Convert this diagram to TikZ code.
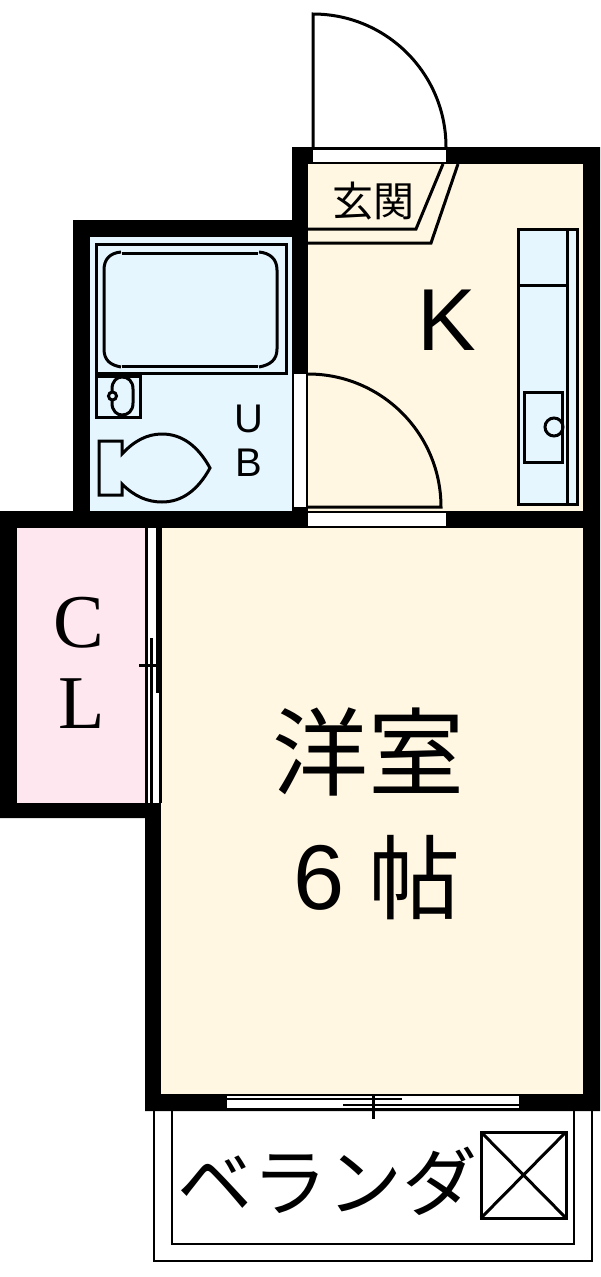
\documentclass[tikz,border=0pt]{standalone}
\usepackage{fontspec}
\setmainfont{Liberation Sans}
\newfontfamily\serifcl{Liberation Serif}
\newfontfamily\jpfont{Noto Sans CJK JP}
\definecolor{roomyellow}{HTML}{FFF7E1}
\definecolor{bathblue}{HTML}{E6F6FF}
\definecolor{closetpink}{HTML}{FFE7EF}
\tikzset{
  thinline/.style={draw=black,line width=3pt},
  fineline/.style={draw=black,line width=2.4pt},
  opening/.style={fill=white,draw=none},
  label/.style={inner sep=0pt,text=black},
}
\newcommand{\fs}[1]{\fontsize{#1}{#1}\selectfont}
\begin{document}
\begin{tikzpicture}[x=1pt,y=-1pt]
  \useasboundingbox (0,0) rectangle (600,1277);
  \clip (0,0) rectangle (600,1277);
  \fill (292,147) -- (604,147) -- (604,1111) -- (145,1111) -- (145,818) -- (-4,818)
    -- (-4,511) -- (73,511) -- (73,220) -- (292,220) -- cycle;
  \fill[roomyellow] (308,164) rectangle (583,511);
  \fill[roomyellow] (161,528) rectangle (583,1094);
  \fill[bathblue] (90,237) rectangle (292,511);
  \fill[closetpink] (17,528) rectangle (146,803);
  \fill[opening] (313,150) rectangle (446,162);
  \fill[opening] (294,374) rectangle (306,507);
  \fill[opening] (308,513) rectangle (446,526);
  \fill[opening] (148,528) rectangle (161,803);
  \fill[opening] (227,1096) rectangle (519,1108);
  \draw[thinline] (313,148) -- (313,14) arc[start angle=-90,end angle=0,radius=133];
  \draw[fineline] (313,148) -- (446,148);
  \draw[thinline] (308,229) -- (416,229) -- (443,164);
  \draw[thinline] (308,243) -- (431,243) -- (458,164);
  \draw[thinline] (308,374) arc[start angle=-90,end angle=0,radius=133] -- (308,507);
  \draw[thinline] (96,244) rectangle (286,373);
  \draw[thinline] (122,253) -- (258,253) (122,366) -- (258,366);
  \draw[thinline] (121,252) .. controls (110,253) and (104,259) .. (104,270) -- (104,349)
    .. controls (104,360) and (110,365) .. (121,367);
  \draw[thinline] (259,252) .. controls (270,253) and (277,259) .. (277,270) -- (277,349)
    .. controls (277,360) and (270,365) .. (259,367);
  \draw[thinline] (96,376) rectangle (140,417);
  \draw[thinline] (112,396) -- (112,389) .. controls (112,381) and (117,377) .. (122,377)
    .. controls (128,377) and (133,381) .. (133,389) -- (133,403)
    .. controls (133,411) and (128,415) .. (122,415)
    .. controls (117,415) and (112,411) .. (112,403) -- cycle;
  \draw[thinline,fill=bathblue] (112.5,396) circle[radius=4];
  \draw[thinline] (122,454) -- (122,441) -- (99,441) -- (99,495) -- (122,495) -- (122,484)
    .. controls (134,496) and (147,502) .. (162,502)
    .. controls (182,502) and (198,490) .. (210,468)
    .. controls (198,446) and (182,434) .. (162,434)
    .. controls (147,434) and (134,441) .. (122,454) -- cycle;
  \draw[thinline,fill=bathblue] (518,229) rectangle (577,504);
  \draw[thinline] (567,229) -- (567,504);
  \draw[thinline] (518,285) -- (567,285);
  \draw[thinline] (524,392) rectangle (562,462);
  \draw[thinline] (554,427) circle[radius=9];
  \draw[fineline] (146.5,528) -- (146.5,803);
  \draw[line width=3pt] (151,638) -- (151,803);
  \draw[line width=3pt] (157,528) -- (157,693);
  \draw[fineline] (160.5,528) -- (160.5,803);
  \draw[thinline] (139,665) -- (161,665);
  \draw[fineline] (227,1099) -- (402,1099);
  \draw[fineline] (343,1105) -- (519,1105);
  \draw[thinline] (373,1096) -- (373,1119);
  \draw[fineline] (154,1111) -- (154,1261) -- (592,1261) -- (592,1111);
  \draw[fineline] (172,1111) -- (172,1244) -- (574,1244) -- (574,1111);
  \draw[thinline] (481,1132) rectangle (566,1218);
  \draw[thinline] (481,1132) -- (566,1218) (566,1132) -- (481,1218);
  \node[label,font=\jpfont\fs{41}] (hall) at (373,201) {玄関};
  \node[label,font=\fs{88}] (kitchen) at (447,320) {K};
  \node[label,font=\fs{40},align=center] (ubu) at (249,419) {U};
  \node[label,font=\fs{40},align=center] (ubb) at (249,463) {B};
  \node[label,font=\serifcl\fs{76}] (clc) at (79,623) {C};
  \node[label,font=\serifcl\fs{76}] (cll) at (82,704) {L};
  \node[label,font=\jpfont\fs{96}] (room) at (368,752) {洋室};
  \node[label,font=\fs{92}] (six) at (319,878) {6};
  \node[label,font=\jpfont\fs{92}] (tatami) at (414,878) {帖};
  \node[label,font=\jpfont\fs{75}] (veranda) at (327,1181) {ベランダ};
\end{tikzpicture}
\end{document}
